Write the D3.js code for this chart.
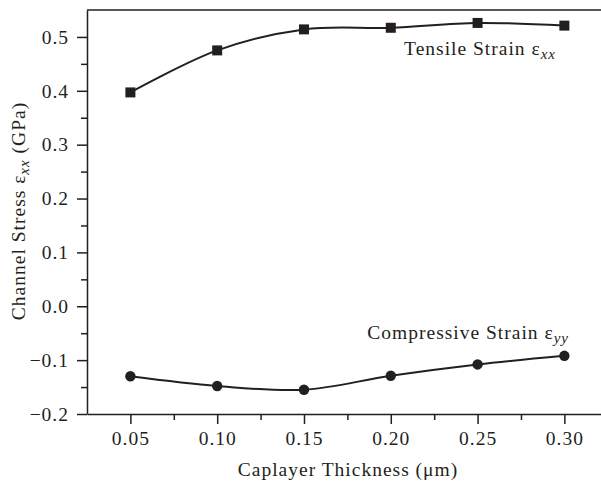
<!DOCTYPE html>
<html>
<head>
<meta charset="utf-8">
<script src="https://cdn.jsdelivr.net/npm/d3@7"></script>
<style>
  body { margin: 0; background: #fff; }
  svg { display: block; }
  text { font-family: "Liberation Serif", "DejaVu Serif", serif; fill: #231f20; letter-spacing: 1px; }
</style>
</head>
<body>
<svg id="chart" width="601" height="484"></svg>
<script>
// Data
const thickness = [0.05, 0.10, 0.15, 0.20, 0.25, 0.30];
const tensile = [0.397, 0.475, 0.514, 0.517, 0.526, 0.521];
const compressive = [-0.130, -0.148, -0.155, -0.129, -0.108, -0.092];
const xTicks = [0.05, 0.10, 0.15, 0.20, 0.25, 0.30];
const xMinor = [0.075, 0.125, 0.175, 0.225, 0.275];
const yTicks = [-0.2, -0.1, 0.0, 0.1, 0.2, 0.3, 0.4, 0.5];
const yMinor = [-0.15, -0.05, 0.05, 0.15, 0.25, 0.35, 0.45];

const svg = d3.select("#chart");
const ink = "#231f20";
const fs = 19.5; // font size used for all main text

// Plot frame
const plotL = 87, plotR = 601, plotT = 10, plotB = 414;

const x = d3.scaleLinear().domain([0.025, 0.3211]).range([plotL, plotR]);
const y = d3.scaleLinear().domain([-0.2, 0.55]).range([plotB, plotT]);

// top border
svg.append("line")
    .attr("x1", plotL).attr("x2", plotR)
    .attr("y1", plotT).attr("y2", plotT)
    .attr("stroke", ink).attr("stroke-width", 1.5);

// -----------------------------
// Axes
// -----------------------------
svg.append("g")
    .attr("transform", `translate(0,${plotB})`)
    .call(d3.axisBottom(x).tickValues(xTicks).tickSize(10).tickPadding(7)
        .tickFormat(d3.format(".2f")).tickSizeOuter(0));

svg.append("g")
    .attr("transform", `translate(0,${plotB})`)
    .call(d3.axisBottom(x).tickValues(xMinor).tickSize(6).tickFormat(""))
    .call(g => g.select(".domain").remove());

svg.append("g")
    .attr("transform", `translate(${plotL},0)`)
    .call(d3.axisLeft(y).tickValues(yTicks).tickSize(10).tickPadding(8)
        .tickFormat(d => d3.format(".1f")(d).replace("-", "\u2212")).tickSizeOuter(0));

svg.append("g")
    .attr("transform", `translate(${plotL},0)`)
    .call(d3.axisLeft(y).tickValues(yMinor).tickSize(6).tickFormat(""))
    .call(g => g.select(".domain").remove());

svg.selectAll(".tick line, .domain").attr("stroke", ink).attr("stroke-width", 1.5);
svg.selectAll(".tick text")
    .attr("font-size", fs)
    .attr("font-family", "Liberation Serif, DejaVu Serif, serif")
    .attr("fill", ink);

// -----------------------------
// Series lines + markers
// -----------------------------
const line = d3.line().curve(d3.curveCatmullRom.alpha(0.5));

const tensPts = thickness.map((t, i) => [x(t), y(tensile[i])]);
const compPts = thickness.map((t, i) => [x(t), y(compressive[i])]);

svg.append("path").attr("d", line(tensPts))
    .attr("fill", "none").attr("stroke", ink).attr("stroke-width", 2);
svg.append("path").attr("d", line(compPts))
    .attr("fill", "none").attr("stroke", ink).attr("stroke-width", 2);

svg.selectAll("rect.sq")
    .data(tensPts)
    .join("rect")
    .attr("class", "sq")
    .attr("x", d => d[0] - 5).attr("y", d => d[1] - 5)
    .attr("width", 10).attr("height", 10)
    .attr("fill", ink);

svg.selectAll("circle.dot")
    .data(compPts)
    .join("circle")
    .attr("class", "dot")
    .attr("cx", d => d[0]).attr("cy", d => d[1])
    .attr("r", 5.2)
    .attr("fill", ink);

// -----------------------------
// Series labels
// -----------------------------
function strainLabel(txt, sub, xPos, yPos, anchor) {
    const t = svg.append("text")
        .attr("x", xPos).attr("y", yPos)
        .attr("font-size", fs)
        .attr("text-anchor", anchor);
    t.append("tspan").text(txt);
    t.append("tspan").attr("font-style", "italic").attr("font-size", 15)
        .attr("dy", 4).text(sub);
    return t;
}
strainLabel("Tensile Strain \u03b5", "xx", 556, 55, "end");
strainLabel("Compressive Strain \u03b5", "yy", 569, 339, "end");

// -----------------------------
// Axis titles
// -----------------------------
svg.append("text")
    .attr("x", 348).attr("y", 476)
    .attr("text-anchor", "middle")
    .attr("font-size", fs)
    .text("Caplayer Thickness (\u03bcm)");

const yt = svg.append("text")
    .attr("transform", `translate(25,211) rotate(-90)`)
    .attr("text-anchor", "middle")
    .attr("font-size", fs);
yt.append("tspan").text("Channel Stress \u03b5");
yt.append("tspan").attr("font-style", "italic").attr("font-size", 15).attr("dy", 4).text("xx");
yt.append("tspan").attr("dy", -4).text(" (GPa)");
</script>
</body>
</html>
